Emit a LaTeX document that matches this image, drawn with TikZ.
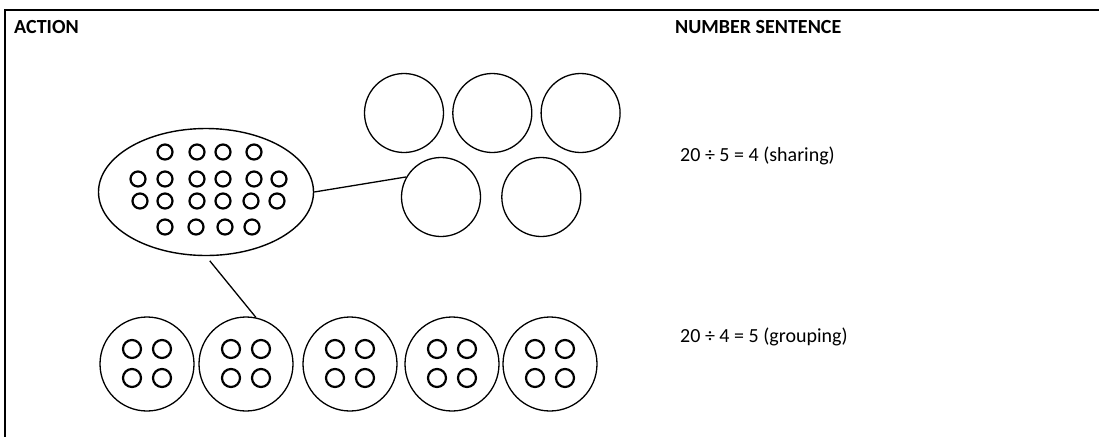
\documentclass[tikz,border=0pt]{standalone}
\usepackage{fontspec}
\setmainfont{Carlito}
\usepackage{tikz}
\usetikzlibrary{positioning,shapes.geometric}

\begin{document}
\begin{tikzpicture}[x=1pt,y=-1pt,
                    heading/.style={anchor=west,inner sep=0pt,font=\fontsize{20}{24}\selectfont\bfseries},
                    sentence/.style={anchor=west,inner sep=0pt,font=\fontsize{20}{24}\selectfont},
                    share node/.style={circle,draw,line width=1.3pt,inner sep=0pt,minimum size=79pt},
                    group node/.style={circle,draw,line width=1.3pt,inner sep=0pt,minimum size=94pt},
                    pool node/.style={ellipse,draw,line width=1.4pt,inner sep=0pt,minimum width=215pt,minimum height=127pt},
                    dot node/.style={circle,draw,line width=2.2pt,inner sep=0pt,minimum size=#1}]
	\useasboundingbox (0,0) rectangle (1099,437);
	\draw[line width=2pt] (1099,10) -- (5,10) -- (5,437);

	\node[heading] (action) at (14,27) {ACTION};
	\node[heading] (number) at (675,27) {NUMBER SENTENCE};
	\node[sentence] (sharing) at (680,156) {20 ÷ 5 = 4 (sharing)};
	\node[sentence] (grouping) at (680,337) {20 ÷ 4 = 5 (grouping)};

	% twenty counters
	\node[pool node] (pool) at (206,192) {};
	\foreach \x/\y [count=\k] in {165/152,197/152,223/152,254/152,
	                              138/179,165/179,197/179,223/179,254/179,279/179,
	                              140/201,165/201,197/201,223/201,251/201,277/201,
	                              165/227,196/227,225/227,252/227}
		\node[dot node=15pt] (p\k) at (\x,\y) {};

	% sharing between five
	\node[share node] (s1) at (404,113) {};
	\node[share node] (s2) [right=8pt of s1] {};
	\node[share node] (s3) [right=8pt of s2] {};
	\node[share node] (s4) at (441,197) {};
	\node[share node] (s5) [right=20pt of s4] {};

	% groups of four
	\foreach \i/\x in {1/147,2/246,3/350,4/452,5/550} {
		\node[group node] (g\i) at (\x,364) {};
		\foreach \dx/\dy [count=\j] in {-15/-15,15/-15,-15/14,15/14}
			\node[dot node=18pt] (g\i d\j) at (\x+\dx,364+\dy) {};
	}

	\path[line width=1.3pt]
		(pool.east) edge (s4.150)
		(pool.south) edge[shorten <=6pt] (g2.78);
\end{tikzpicture}
\end{document}
